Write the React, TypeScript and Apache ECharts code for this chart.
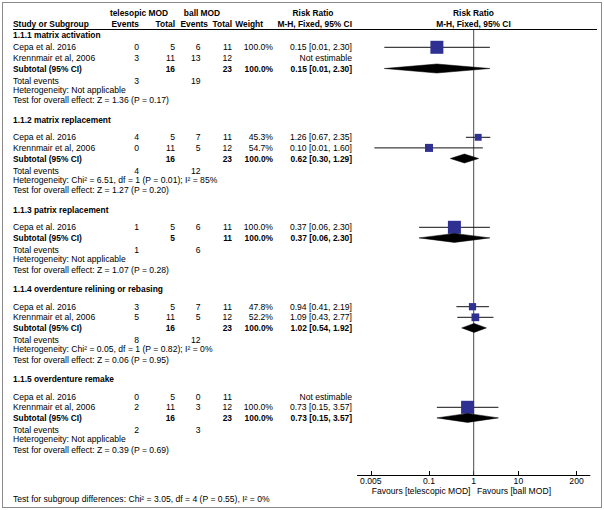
import React, { useEffect, useRef } from "react";
import * as echarts from "echarts";

// ---------- data ----------
const subgroupTitles = [
  "1.1.1 matrix activation",
  "1.1.2 matrix replacement",
  "1.1.3 patrix replacement",
  "1.1.4 overdenture relining or rebasing",
  "1.1.5 overdenture remake",
];

const studyGroup = [0, 0, 1, 1, 2, 3, 3, 4, 4];
const studyNames = [
  "Cepa et al. 2016",
  "Krennmair et al, 2006",
  "Cepa et al. 2016",
  "Krennmair et al, 2006",
  "Cepa et al. 2016",
  "Cepa et al. 2016",
  "Krennmair et al, 2006",
  "Cepa et al. 2016",
  "Krennmair et al, 2006",
];
const telEvents = [0, 3, 4, 0, 1, 3, 5, 0, 2];
const telTotal = [5, 11, 5, 11, 5, 5, 11, 5, 11];
const ballEvents = [6, 13, 7, 5, 6, 7, 5, 0, 3];
const ballTotal = [11, 12, 11, 12, 11, 11, 12, 11, 12];
const studyWeight: (number | null)[] = [100.0, null, 45.3, 54.7, 100.0, 47.8, 52.2, null, 100.0];
const studyRR: (number | null)[] = [0.15, null, 1.26, 0.1, 0.37, 0.94, 1.09, null, 0.73];
const studyLo: (number | null)[] = [0.01, null, 0.67, 0.006, 0.06, 0.41, 0.43, null, 0.15];
const studyHi: (number | null)[] = [2.3, null, 2.35, 1.6, 2.3, 2.19, 2.77, null, 3.57];

const subTelTotal = [16, 16, 5, 16, 16];
const subBallTotal = [23, 23, 11, 23, 23];
const subWeight = [100.0, 100.0, 100.0, 100.0, 100.0];
const subRR = [0.15, 0.62, 0.37, 1.02, 0.73];
const subLo = [0.01, 0.3, 0.06, 0.54, 0.15];
const subHi = [2.3, 1.29, 2.3, 1.92, 3.57];

const telEventsTotal = [3, 4, 1, 8, 2];
const ballEventsTotal = [19, 12, 6, 12, 3];

const heterogeneity = [
  "Heterogeneity: Not applicable",
  "Heterogeneity: Chi² = 6.51, df = 1 (P = 0.01); I² = 85%",
  "Heterogeneity: Not applicable",
  "Heterogeneity: Chi² = 0.05, df = 1 (P = 0.82); I² = 0%",
  "Heterogeneity: Not applicable",
];
const overallEffect = [
  "Test for overall effect: Z = 1.36 (P = 0.17)",
  "Test for overall effect: Z = 1.27 (P = 0.20)",
  "Test for overall effect: Z = 1.07 (P = 0.28)",
  "Test for overall effect: Z = 0.06 (P = 0.95)",
  "Test for overall effect: Z = 0.39 (P = 0.69)",
];
const subgroupDiff = "Test for subgroup differences: Chi² = 3.05, df = 4 (P = 0.55), I² = 0%";

const tickValues = [0.005, 0.1, 1, 10, 200];
const tickLabels = ["0.005", "0.1", "1", "10", "200"];
const favoursLeft = "Favours [telescopic MOD]";
const favoursRight = "Favours [ball MOD]";

// ---------- layout ----------
const W = 604;
const H = 510;
const FONT = "'Liberation Sans', Arial, sans-serif";
const REG = 8.6;
const BOLD = 8.4;
const AXIS_Y = 475;
const PITCH = 10.6;
const X_LEFT = 357.5;
const X_RIGHT = 589.9;
const LOG_MIN = -2.6;
const LOG_MAX = 2.6;

const COL = {
  name: 13,
  telEv: 139,
  telTot: 175,
  ballEv: 200.5,
  ballTot: 232,
  weight: 273,
  rr: 352,
};

type Row = { kind: string; g: number; s?: number; y: number };

function buildRows(): Row[] {
  const rows: Row[] = [];
  let y = 34.5;
  let prevTest = 0;
  for (let g = 0; g < subgroupTitles.length; g++) {
    if (g > 0) y = prevTest + 19.5;
    rows.push({ kind: "header", g, y });
    y += g === 0 ? 12.8 : 17.5;
    for (let s = 0; s < studyNames.length; s++) {
      if (studyGroup[s] !== g) continue;
      rows.push({ kind: "study", g, s, y });
      y += PITCH;
    }
    rows.push({ kind: "sub", g, y });
    y += 12;
    rows.push({ kind: "total", g, y });
    y += 9.2;
    rows.push({ kind: "het", g, y });
    y += PITCH;
    rows.push({ kind: "test", g, y });
    prevTest = y;
  }
  return rows;
}

function fmtCI(rr: number, lo: number, hi: number) {
  return `${rr.toFixed(2)} [${lo.toFixed(2)}, ${hi.toFixed(2)}]`;
}

function txt(x: number, y: number, text: string, align: string, bold = false) {
  return {
    type: "text",
    x,
    y,
    silent: true,
    style: {
      text,
      fill: "#000",
      fontSize: bold ? BOLD : REG,
      fontWeight: bold ? "bold" : "normal",
      fontFamily: FONT,
      textAlign: align,
      textVerticalAlign: "middle",
    },
  };
}

export default function App() {
  const ref = useRef<HTMLDivElement>(null);

  useEffect(() => {
    document.body.style.margin = "0";
    if (!ref.current) return;
    const chart = echarts.init(ref.current, undefined, { renderer: "svg" });
    const rows = buildRows();

    const graphics: any[] = [];
    // column headers
    graphics.push(txt(139, 12.7, "telesopic MOD", "center", true));
    graphics.push(txt(202, 12.7, "ball MOD", "center", true));
    graphics.push(txt(313, 12.7, "Risk Ratio", "center", true));
    graphics.push(txt(473.5, 12.7, "Risk Ratio", "center", true));
    graphics.push(txt(COL.name, 24, "Study or Subgroup", "left", true));
    graphics.push(txt(139, 24, "Events", "right", true));
    graphics.push(txt(175, 24, "Total", "right", true));
    graphics.push(txt(208, 24, "Events", "right", true));
    graphics.push(txt(232, 24, "Total", "right", true));
    graphics.push(txt(263, 24, "Weight", "right", true));
    graphics.push(txt(352, 24, "M-H, Fixed, 95% CI", "right", true));
    graphics.push(txt(473.5, 24, "M-H, Fixed, 95% CI", "center", true));

    const marks: any[] = [];
    marks.push([2, 0, 0, 0, 0, 29.5]); // reference line at RR = 1
    marks.push([3, 0, 0, 0, 0, 29.5]); // header rule

    rows.forEach((r) => {
      const g = r.g;
      if (r.kind === "header") {
        graphics.push(txt(COL.name, r.y, subgroupTitles[g], "left", true));
      } else if (r.kind === "study") {
        const s = r.s as number;
        graphics.push(txt(COL.name, r.y, studyNames[s], "left"));
        graphics.push(txt(COL.telEv, r.y, String(telEvents[s]), "right"));
        graphics.push(txt(COL.telTot, r.y, String(telTotal[s]), "right"));
        graphics.push(txt(COL.ballEv, r.y, String(ballEvents[s]), "right"));
        graphics.push(txt(COL.ballTot, r.y, String(ballTotal[s]), "right"));
        const w = studyWeight[s];
        if (w !== null) graphics.push(txt(COL.weight, r.y, `${w.toFixed(1)}%`, "right"));
        const rr = studyRR[s];
        if (rr === null) {
          graphics.push(txt(COL.rr, r.y, "Not estimable", "right"));
        } else {
          const lo = studyLo[s] as number;
          const hi = studyHi[s] as number;
          graphics.push(txt(COL.rr, r.y, fmtCI(rr, lo, hi), "right"));
          marks.push([0, Math.log10(rr), Math.log10(lo), Math.log10(hi), w ?? 0, r.y]);
        }
      } else if (r.kind === "sub") {
        graphics.push(txt(COL.name, r.y, "Subtotal (95% CI)", "left", true));
        graphics.push(txt(COL.telTot, r.y, String(subTelTotal[g]), "right", true));
        graphics.push(txt(COL.ballTot, r.y, String(subBallTotal[g]), "right", true));
        graphics.push(txt(COL.weight, r.y, `${subWeight[g].toFixed(1)}%`, "right", true));
        graphics.push(txt(COL.rr, r.y, fmtCI(subRR[g], subLo[g], subHi[g]), "right", true));
        marks.push([1, Math.log10(subRR[g]), Math.log10(subLo[g]), Math.log10(subHi[g]), subWeight[g], r.y]);
      } else if (r.kind === "total") {
        graphics.push(txt(COL.name, r.y, "Total events", "left"));
        graphics.push(txt(COL.telEv, r.y, String(telEventsTotal[g]), "right"));
        graphics.push(txt(COL.ballEv, r.y, String(ballEventsTotal[g]), "right"));
      } else if (r.kind === "het") {
        graphics.push(txt(COL.name, r.y, heterogeneity[g], "left"));
      } else if (r.kind === "test") {
        graphics.push(txt(COL.name, r.y, overallEffect[g], "left"));
      }
    });

    graphics.push(txt(COL.name, 498.5, subgroupDiff, "left"));
    graphics.push(txt(470.5, 490.8, favoursLeft, "right"));
    graphics.push(txt(477, 490.8, favoursRight, "left"));

    const tickLogs = tickValues.map((t) => Math.log10(t));

    const option: any = {
      animation: false,
      grid: { left: X_LEFT, right: W - X_RIGHT, top: 0, bottom: H - AXIS_Y, containLabel: false },
      xAxis: {
        type: "value",
        min: LOG_MIN,
        max: LOG_MAX,
        axisLine: { show: true, onZero: false, lineStyle: { color: "#000", width: 1 } },
        axisTick: { show: true, inside: true, length: 4, customValues: tickLogs, lineStyle: { color: "#000" } },
        axisLabel: {
          show: true,
          customValues: tickLogs,
          margin: 1.5,
          color: "#000",
          fontSize: REG,
          fontFamily: FONT,
          formatter: (v: number) => {
            const i = tickLogs.findIndex((t) => Math.abs(t - v) < 1e-6);
            return i >= 0 ? tickLabels[i] : "";
          },
        },
        splitLine: { show: false },
      },
      yAxis: {
        type: "value",
        inverse: true,
        min: 0,
        max: AXIS_Y,
        show: false,
      },
      graphic: graphics,
      series: [
        {
          type: "custom",
          silent: true,
          clip: false,
          encode: { x: 1, y: 5 },
          data: marks,
          renderItem: (params: any, api: any) => {
            const kind = api.value(0);
            const rr = api.value(1);
            const lo = api.value(2);
            const hi = api.value(3);
            const w = api.value(4);
            const y = api.value(5);
            if (kind === 2) {
              const a = api.coord([0, y]);
              const b = api.coord([0, AXIS_Y]);
              return {
                type: "line",
                shape: { x1: a[0], y1: a[1], x2: b[0], y2: b[1] },
                style: { stroke: "#4a4a4a", lineWidth: 1 },
              };
            }
            if (kind === 3) {
              const a = api.coord([0, y]);
              return {
                type: "line",
                shape: { x1: 13, y1: a[1], x2: 597, y2: a[1] },
                style: { stroke: "#000", lineWidth: 1 },
              };
            }
            const c = api.coord([rr, y]);
            const l = api.coord([lo, y]);
            const h = api.coord([hi, y]);
            if (kind === 1) {
              const hh = 4.5;
              return {
                type: "polygon",
                shape: { points: [[l[0], c[1]], [c[0], c[1] - hh], [h[0], c[1]], [c[0], c[1] + hh]] },
                style: { fill: "#000", stroke: "#000", lineWidth: 0.5 },
              };
            }
            const side = 13 * Math.pow(w / 100, 0.8);
            return {
              type: "group",
              children: [
                {
                  type: "line",
                  shape: { x1: l[0], y1: c[1], x2: h[0], y2: c[1] },
                  style: { stroke: "#111", lineWidth: 1 },
                },
                {
                  type: "rect",
                  shape: { x: c[0] - side / 2, y: c[1] - side / 2, width: side, height: side },
                  style: { fill: "#2F3192" },
                },
              ],
            };
          },
        },
      ],
    };

    chart.setOption(option);
    return () => chart.dispose();
  }, []);

  return (
    <div style={{ position: "relative", width: W, height: H }}>
      <div ref={ref} style={{ position: "absolute", left: 0, top: 0, width: W, height: H }} />
      <div
        style={{
          position: "absolute",
          left: 2,
          top: 2,
          width: 600,
          height: 506,
          boxSizing: "border-box",
          border: "1px solid #8a8a8a",
          pointerEvents: "none",
        }}
      />
    </div>
  );
}
